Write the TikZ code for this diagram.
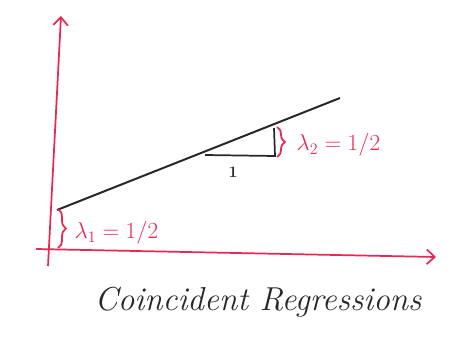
\documentclass[tikz,border=0pt]{standalone}
\usepackage{tikz}
\usetikzlibrary{decorations.pathreplacing,arrows.meta}
\definecolor{penred}{RGB}{232,40,84}
\definecolor{penblack}{RGB}{40,40,40}
\tikzset{
  axis/.style={draw=penred, line width=1.3pt, -{Straight Barb[length=6pt,width=11pt]}},
  regline/.style={draw=penblack, line width=1.5pt},
  bracered/.style={draw=penred, line width=1.3pt, decorate, decoration={brace, amplitude=6pt}},
  lab/.style={text=penred, font=\LARGE\itshape},
}
\begin{document}
\begin{tikzpicture}[x=0.75pt, y=-0.75pt]
\useasboundingbox (0,0) rectangle (470,342);
\coordinate (O) at (48,266);
\coordinate (ytop) at (61,16);
\coordinate (xleft) at (36,249);
\coordinate (xright) at (436,257);
\coordinate (P) at (57,210);
\coordinate (Q) at (340,98);
\coordinate (A) at (205,155);
\coordinate (B) at (275,156);
\coordinate (C) at (274,128);
\draw[axis] (O) -- (ytop);
\draw[axis] (xleft) -- (xright);
\draw[regline] (P) -- (Q);
\draw[regline, line width=1.3pt] (A) -- (B) -- (C);
\node[font=\large\bfseries, text=penblack] (one) at (233,172) {1};
% intercept and slope
\draw[bracered] (58,209) -- (58,248);
\node[lab, anchor=west] (lam1) at (70,233) {$\lambda_1 = 1/2$};
\draw[bracered] (277,127) -- (277,157);
\node[lab, anchor=west] (lam2) at (292,145) {$\lambda_2 = 1/2$};
\node[font=\Huge\itshape, text=penblack] (cap) at (258,302) {Coincident Regressions};
\end{tikzpicture}
\end{document}
